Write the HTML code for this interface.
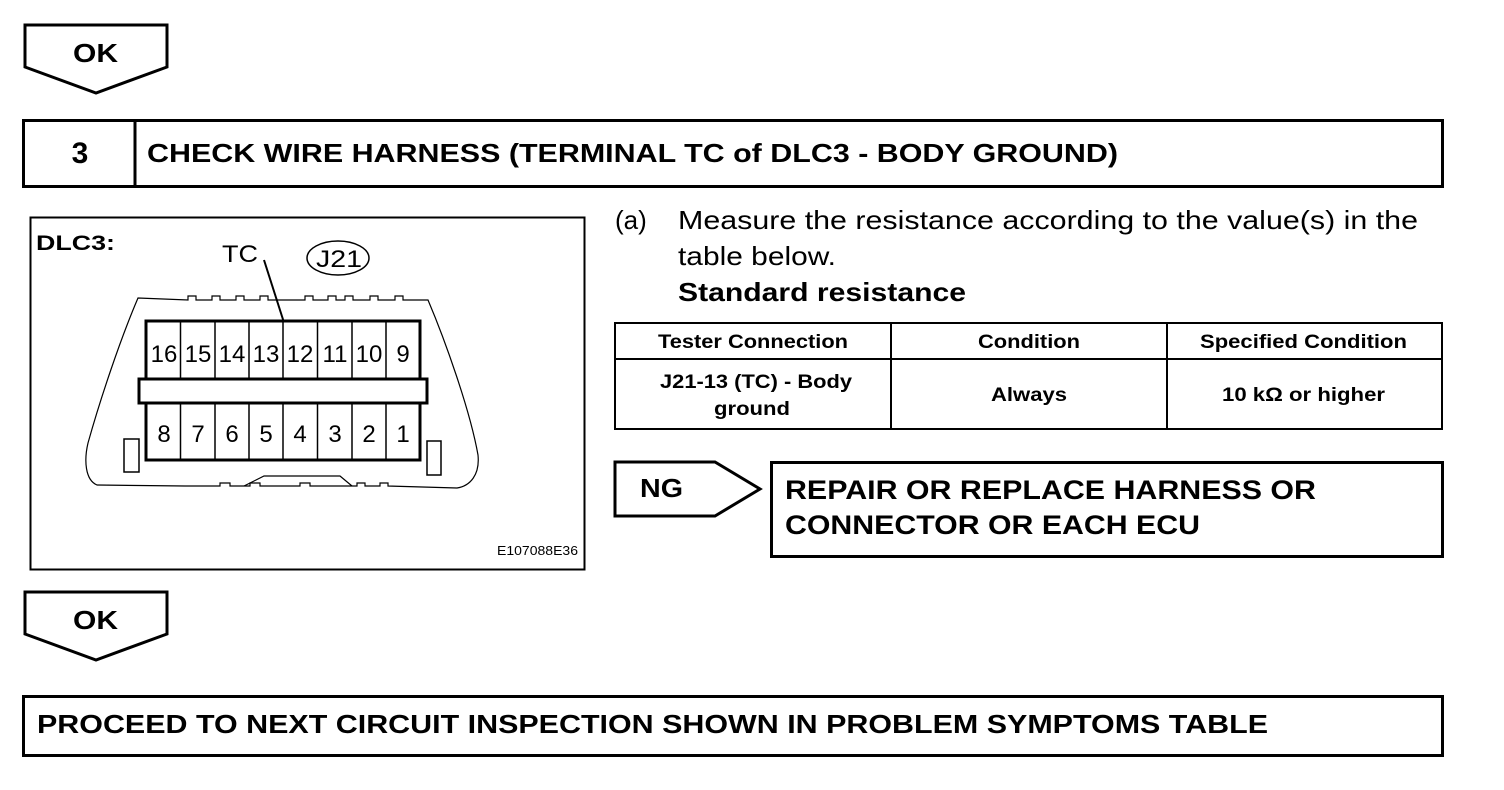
<!DOCTYPE html>
<html><head><style>body{margin:0;background:#fff}svg{display:block}text{font-family:"Liberation Sans",Arial,sans-serif;fill:#000}</style></head><body>
<svg width="1504" height="790" viewBox="0 0 1504 790" xmlns="http://www.w3.org/2000/svg">
<g fill="none" stroke="#000" stroke-width="3">
<path d="M25,25 H167 V67 L96,93 L25,67 Z"/>
<rect x="23.5" y="120.5" width="1419" height="66"/>
<line x1="135" y1="120" x2="135" y2="187"/>
<path d="M25,592 H167 V634 L96,660 L25,634 Z"/>
<path d="M615,462 H715 L760,489 L715,516 H615 Z"/>
<rect x="771.5" y="462.5" width="671" height="94"/>
<rect x="23.5" y="696.5" width="1419" height="59"/>
</g>
<text x="80" y="163" font-size="30" font-weight="bold" text-anchor="middle">3</text>
<text x="147" y="162" font-size="26" font-weight="bold" textLength="971" lengthAdjust="spacingAndGlyphs">CHECK WIRE HARNESS (TERMINAL TC of DLC3 - BODY GROUND)</text>
<text x="73" y="62" font-size="26" font-weight="bold" textLength="45" lengthAdjust="spacingAndGlyphs">OK</text>
<text x="73" y="629" font-size="26" font-weight="bold" textLength="45" lengthAdjust="spacingAndGlyphs">OK</text>

<rect x="30.5" y="217.5" width="554" height="352" fill="none" stroke="#000" stroke-width="2"/>
<text x="36" y="250" font-size="21" font-weight="bold" textLength="79" lengthAdjust="spacingAndGlyphs">DLC3:</text>
<text x="222" y="262" font-size="24" textLength="36" lengthAdjust="spacingAndGlyphs">TC</text>
<line x1="264" y1="260" x2="287" y2="332" stroke="#000" stroke-width="2"/>
<ellipse cx="338" cy="258" rx="31" ry="17" fill="none" stroke="#000" stroke-width="1.5"/>
<text x="316" y="267" font-size="24" textLength="46" lengthAdjust="spacingAndGlyphs">J21</text>
<path d="M138,298 L188,300 V296 H196 V300 L212,300 V296 H220 V300 H236 V296 H244 V300 H260 V296 H268 V300 H288 V300 H305 V296 H313 V300 H328 V296 H336 V300 H345 V296 H353 V300 H370 V296 H378 V300 H395 V296 H403 V300 L428,300 C445,340 470,410 478,455 C480,475 470,486 457,488 L388,486 V483 H380 V486 H365 V483 H357 V486 L310,486 V483 H300 V486 L260,486 V483 H250 V486 H230 V483 H220 V486 H185 L97,485 C85,480 84,460 88,443 C100,400 120,340 138,298 Z" fill="none" stroke="#000" stroke-width="1.2"/>
<path d="M244,486 L264,476 H340 L352,486" fill="none" stroke="#000" stroke-width="1.2"/>
<rect x="146" y="321" width="274" height="139" fill="#fff" stroke="#000" stroke-width="3"/>
<rect x="139" y="379" width="288" height="24" fill="#fff" stroke="#000" stroke-width="3"/>
<g stroke="#000" stroke-width="1.5">
<line x1="180.5" y1="321" x2="180.5" y2="379"/><line x1="215" y1="321" x2="215" y2="379"/><line x1="249" y1="321" x2="249" y2="379"/><line x1="283" y1="321" x2="283" y2="379"/><line x1="317.5" y1="321" x2="317.5" y2="379"/><line x1="352" y1="321" x2="352" y2="379"/><line x1="386" y1="321" x2="386" y2="379"/>
<line x1="180.5" y1="403" x2="180.5" y2="460"/><line x1="215" y1="403" x2="215" y2="460"/><line x1="249" y1="403" x2="249" y2="460"/><line x1="283" y1="403" x2="283" y2="460"/><line x1="317.5" y1="403" x2="317.5" y2="460"/><line x1="352" y1="403" x2="352" y2="460"/><line x1="386" y1="403" x2="386" y2="460"/>
</g>
<g font-size="24" text-anchor="middle">
<text x="164" y="362">16</text><text x="198" y="362">15</text><text x="232" y="362">14</text><text x="266" y="362">13</text><text x="300" y="362">12</text><text x="335" y="362">11</text><text x="369" y="362">10</text><text x="403" y="362">9</text>
<text x="164" y="442">8</text><text x="198" y="442">7</text><text x="232" y="442">6</text><text x="266" y="442">5</text><text x="300" y="442">4</text><text x="335" y="442">3</text><text x="369" y="442">2</text><text x="403" y="442">1</text>
</g>
<rect x="124" y="439" width="15" height="33" fill="none" stroke="#000" stroke-width="1.5"/>
<rect x="427" y="441" width="14" height="34" fill="none" stroke="#000" stroke-width="1.5"/>
<text x="497" y="555" font-size="13" textLength="81" lengthAdjust="spacingAndGlyphs">E107088E36</text>

<g font-size="26">
<text x="615" y="229">(a)</text>
<text x="678" y="229" textLength="740" lengthAdjust="spacingAndGlyphs">Measure the resistance according to the value(s) in the</text>
<text x="678" y="265" textLength="158" lengthAdjust="spacingAndGlyphs">table below.</text>
<text x="678" y="301" font-weight="bold" textLength="288" lengthAdjust="spacingAndGlyphs">Standard resistance</text>
</g>
<g fill="none" stroke="#000" stroke-width="2">
<rect x="615" y="323" width="827" height="106"/>
<line x1="615" y1="359" x2="1442" y2="359"/>
<line x1="891" y1="323" x2="891" y2="429"/>
<line x1="1167" y1="323" x2="1167" y2="429"/>
</g>
<g font-size="19" font-weight="bold">
<text x="658" y="348" textLength="190" lengthAdjust="spacingAndGlyphs">Tester Connection</text>
<text x="978" y="348" textLength="102" lengthAdjust="spacingAndGlyphs">Condition</text>
<text x="1200" y="348" textLength="207" lengthAdjust="spacingAndGlyphs">Specified Condition</text>
<text x="660" y="388" textLength="192" lengthAdjust="spacingAndGlyphs">J21-13 (TC) - Body</text>
<text x="714" y="415" textLength="76" lengthAdjust="spacingAndGlyphs">ground</text>
<text x="991" y="401" textLength="76" lengthAdjust="spacingAndGlyphs">Always</text>
<text x="1222" y="401" textLength="163" lengthAdjust="spacingAndGlyphs">10 kΩ or higher</text>
</g>
<text x="640" y="497" font-size="26" font-weight="bold" textLength="43" lengthAdjust="spacingAndGlyphs">NG</text>
<text x="785" y="499" font-size="27" font-weight="bold" textLength="531" lengthAdjust="spacingAndGlyphs">REPAIR OR REPLACE HARNESS OR</text>
<text x="785" y="534" font-size="27" font-weight="bold" textLength="415" lengthAdjust="spacingAndGlyphs">CONNECTOR OR EACH ECU</text>
<text x="37" y="733" font-size="26" font-weight="bold" textLength="1231" lengthAdjust="spacingAndGlyphs">PROCEED TO NEXT CIRCUIT INSPECTION SHOWN IN PROBLEM SYMPTOMS TABLE</text>
</svg>
</body></html>
